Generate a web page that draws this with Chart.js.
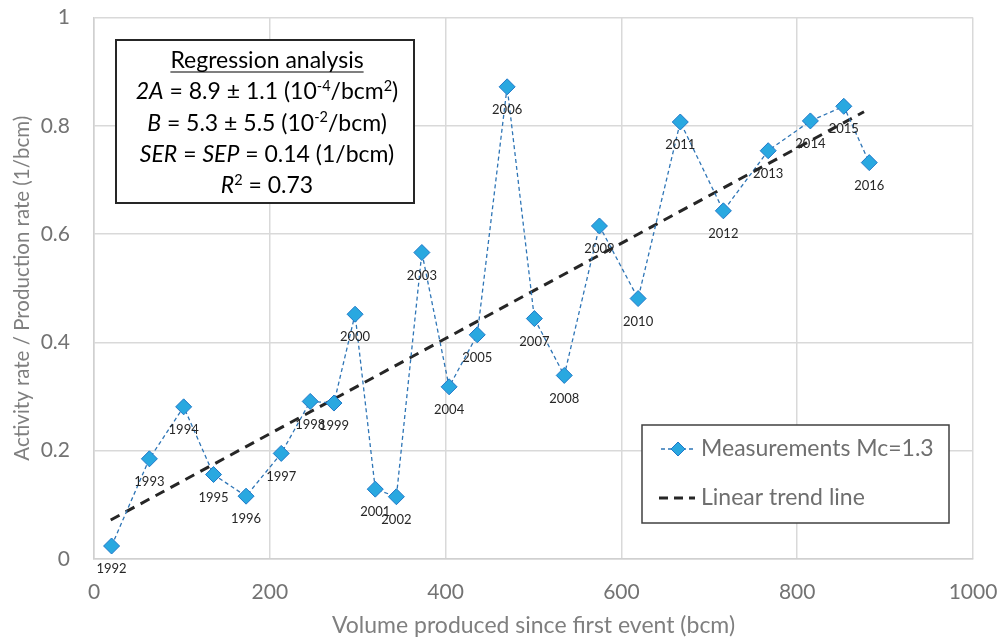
<!DOCTYPE html>
<html>
<head>
<meta charset="utf-8">
<script src="https://cdn.jsdelivr.net/npm/chart.js@4"></script>
<style>
  html, body { margin: 0; padding: 0; background: #fff; }
  #wrap { width: 999px; height: 643px; }
</style>
</head>
<body>
<div id="wrap"><canvas id="trend_Chart" width="999" height="643"></canvas></div>
<script>
// values
const years = [1992, 1993, 1994, 1995, 1996, 1997, 1998, 1999, 2000, 2001, 2002, 2003, 2004,
               2005, 2006, 2007, 2008, 2009, 2010, 2011, 2012, 2013, 2014, 2015, 2016];
const volume = [20, 63, 102, 136, 173, 213, 246, 273, 297, 320, 344, 373, 404,
                436, 470, 501, 535, 575, 619, 667, 716, 767, 815, 853, 882];
const rate = [0.024, 0.185, 0.281, 0.156, 0.116, 0.195, 0.291, 0.288, 0.452, 0.129, 0.115, 0.566, 0.318,
              0.414, 0.872, 0.444, 0.339, 0.615, 0.481, 0.807, 0.643, 0.754, 0.809, 0.836, 0.732];
const trendX = [19, 876];
const trendY = [0.072, 0.826];
const xTicks = ['0', '200', '400', '600', '800', '1000'];
const yTicks = ['0', '0.2', '0.4', '0.6', '0.8', '1'];

const FONT = 'Lato, "Open Sans", sans-serif';

let measure_pts = volume.map((v, i) => ({x: v, y: rate[i]}));
let trend_pts = trendX.map((v, i) => ({x: v, y: trendY[i]}));

// year labels under each marker + text box + legend box
const extras = {
  id: 'extras',
  afterDatasetsDraw(chart) {
    const c = chart.ctx;
    c.save();
    // year labels
    c.fillStyle = '#262626';
    c.font = '13px ' + FONT;
    c.textAlign = 'center';
    c.textBaseline = 'middle';
    chart.getDatasetMeta(0).data.forEach((p, i) => {
      c.fillText(String(years[i]), p.x, p.y + 23);
    });

    // regression box
    c.fillStyle = '#fff';
    c.fillRect(116, 40, 298, 163);
    c.strokeStyle = '#262626';
    c.lineWidth = 2;
    c.strokeRect(116, 40, 298, 163);
    const lines = [
      [{t: 'Regression analysis'}],
      [{t: '2A', i: 1}, {t: ' = 8.9 \u00b1 1.1 (10'}, {t: '-4', s: 1}, {t: '/bcm'}, {t: '2', s: 1}, {t: ')'}],
      [{t: 'B', i: 1}, {t: ' = 5.3 \u00b1 5.5 (10'}, {t: '-2', s: 1}, {t: '/bcm)'}],
      [{t: 'SER', i: 1}, {t: ' = '}, {t: 'SEP', i: 1}, {t: ' = 0.14 (1/bcm)'}],
      [{t: 'R', i: 1}, {t: '2', s: 1}, {t: ' = 0.73'}]
    ];
    const fontOf = seg => (seg.i ? 'italic ' : '') + (seg.s ? '14.5px ' : '23px ') + FONT;
    c.fillStyle = '#000';
    c.textAlign = 'left';
    c.textBaseline = 'alphabetic';
    lines.forEach((line, li) => {
      const base = 68 + li * 31.3;
      let w = 0;
      line.forEach(seg => { c.font = fontOf(seg); w += c.measureText(seg.t).width; });
      let x = 267 - w / 2;
      line.forEach(seg => {
        c.font = fontOf(seg);
        c.fillText(seg.t, x, seg.s ? base - 8.5 : base);
        x += c.measureText(seg.t).width;
      });
      if (li === 0) {
        c.strokeStyle = '#000';
        c.lineWidth = 1.2;
        c.beginPath();
        c.moveTo(267 - w / 2, base + 4);
        c.lineTo(267 + w / 2, base + 4);
        c.stroke();
      }
    });

    // legend box
    c.fillStyle = '#fff';
    c.fillRect(642, 425, 307, 98);
    c.strokeStyle = '#404040';
    c.lineWidth = 1.5;
    c.strokeRect(642, 425, 307, 98);
    c.font = '23px ' + FONT;
    c.fillStyle = '#6f6f6f';
    c.textBaseline = 'middle';
    c.fillText('Measurements Mc=1.3', 701, 449);
    c.fillText('Linear trend line', 701, 498);
    // legend sample: blue dashed with diamond
    c.strokeStyle = '#2e75b6';
    c.lineWidth = 1.3;
    c.setLineDash([4, 3]);
    c.beginPath(); c.moveTo(661, 449); c.lineTo(695, 449); c.stroke();
    c.setLineDash([]);
    c.fillStyle = '#29a8e0';
    c.strokeStyle = '#1f78c8';
    c.lineWidth = 1;
    c.beginPath();
    c.moveTo(678, 442); c.lineTo(685, 449); c.lineTo(678, 456); c.lineTo(671, 449); c.closePath();
    c.fill(); c.stroke();
    // legend sample: black dashed
    c.strokeStyle = '#262626';
    c.lineWidth = 3;
    c.setLineDash([9, 6]);
    c.beginPath(); c.moveTo(659, 498); c.lineTo(695, 498); c.stroke();
    c.restore();
  }
};

let ctx = document.getElementById('trend_Chart');
let graphData = {
  type: 'scatter',
  data: {
    datasets: [{
      label: 'Measurements Mc=1.3',
      data: measure_pts,
      showLine: true,
      borderColor: '#2e75b6',
      borderWidth: 1.3,
      borderDash: [4, 3],
      pointStyle: 'rectRot',
      pointRadius: 8,
      pointBackgroundColor: '#29a8e0',
      pointBorderColor: '#1f78c8',
      pointBorderWidth: 1,
      order: 1
    },
    {
      label: 'Linear trend line',
      data: trend_pts,
      showLine: true,
      borderColor: '#262626',
      borderWidth: 3,
      borderDash: [10, 7],
      pointRadius: 0,
      order: 2
    }]
  },
  options: {
    responsive: false,
    animation: false,
    layout: { padding: { top: 17.5, right: 26, left: 0, bottom: 0 } },
    plugins: {
      legend: { display: false },
      tooltip: { enabled: false }
    },
    scales: {
      x: {
        type: 'linear',
        min: 0,
        max: 1000,
        afterFit: s => { s.height = 84; s.paddingLeft = 0; s.paddingRight = 0; },
        ticks: {
          stepSize: 200,
          padding: 21,
          color: '#737373',
          font: { family: FONT, size: 21 },
          callback: (v, i) => xTicks[i]
        },
        grid: { color: '#d9d9d9', lineWidth: 1.5, drawTicks: false },
        border: { color: '#d0d0d0', width: 1.5 },
        title: {
          display: true,
          text: 'Volume produced since first event (bcm)',
          color: '#7f7f7f',
          font: { family: FONT, size: 23 },
          padding: { top: 6 }
        }
      },
      y: {
        min: 0,
        max: 1,
        afterFit: s => { s.width = 94; s.paddingTop = 0; s.paddingBottom = 0; },
        ticks: {
          stepSize: 0.2,
          padding: 24,
          color: '#737373',
          font: { family: FONT, size: 21 },
          callback: (v, i) => yTicks[i]
        },
        grid: { color: '#d9d9d9', lineWidth: 1.5, drawTicks: false },
        border: { color: '#d0d0d0', width: 1.5 },
        title: {
          display: true,
          text: 'Activity rate / Production rate (1/bcm)',
          color: '#7f7f7f',
          font: { family: FONT, size: 20.5 },
          padding: { top: 10, bottom: 4 }
        }
      }
    }
  },
  plugins: [extras]
};

let trend_Chart = new Chart(ctx, graphData);
</script>
</body>
</html>
